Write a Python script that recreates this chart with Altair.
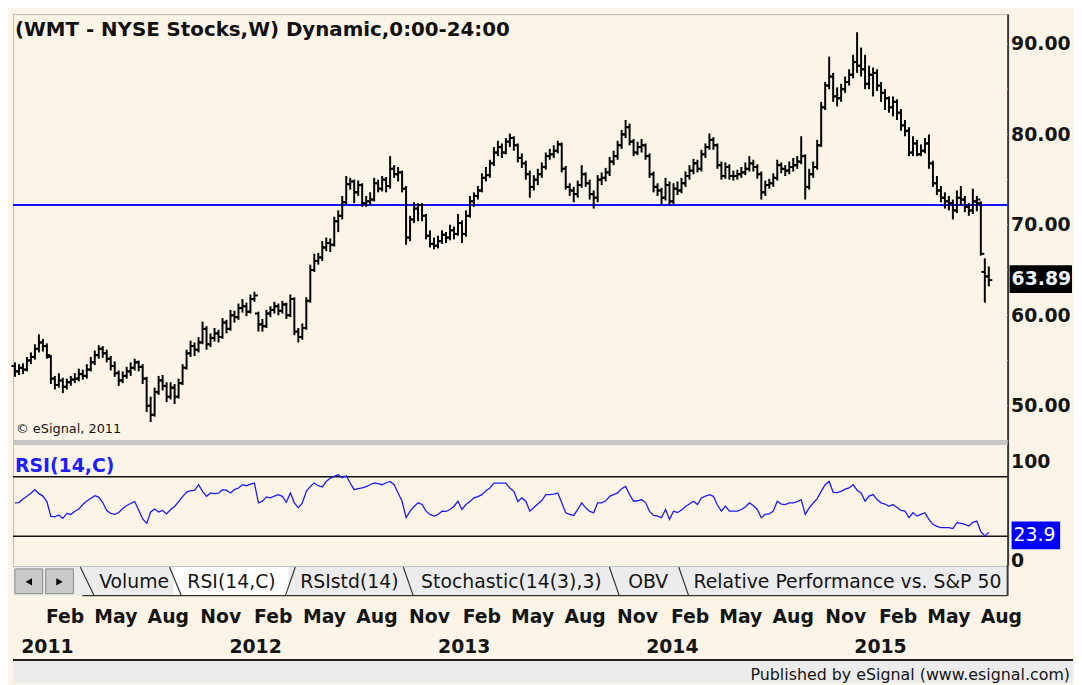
import altair as alt
import pandas as pd

# ---------------- data ----------------
TITLE = "(WMT - NYSE Stocks,W) Dynamic,0:00-24:00"
COPYRIGHT = "\u00a9 eSignal, 2011"
RSI_NAME = "RSI(14,C)"
PUBLISHED = "Published by eSignal (www.esignal.com)"
FIRST_WEEK = "2010-11-05"

opens = [
    54.4, 53.8, 54.2, 54.0, 55.0, 55.4, 56.3, 57.0, 56.6, 55.4,
    53.0, 52.3, 52.8, 52.1, 52.6, 52.9, 53.0, 53.5, 53.3, 54.0,
    54.8, 55.6, 56.3, 55.8, 55.2, 54.4, 53.6, 52.8, 53.3, 53.8,
    54.2, 54.8, 54.3, 53.0, 50.0, 49.0, 51.5, 52.8, 52.2, 51.0,
    52.0, 51.0, 52.5, 54.2, 55.8, 56.6, 56.2, 57.0, 58.5, 56.8,
    57.5, 58.0, 57.6, 59.2, 58.5, 60.0, 59.8, 60.8, 61.0, 60.4,
    61.8, 60.2, 59.0, 58.8, 60.2, 60.6, 61.0, 60.5, 61.2, 60.0,
    61.8, 58.2, 57.6, 58.6, 61.6, 65.0, 66.0, 66.4, 67.5, 68.0,
    67.8, 70.4, 71.0, 72.5, 74.5, 74.8, 73.6, 74.4, 72.4, 72.6,
    72.8, 74.6, 74.0, 75.0, 74.3, 76.2, 75.6, 75.8, 74.0, 68.6,
    70.6, 71.8, 72.2, 71.0, 68.8, 67.9, 67.7, 68.2, 68.9, 68.6,
    69.4, 69.0, 70.2, 69.0, 71.0, 72.6, 73.2, 73.8, 75.2, 75.5,
    76.8, 78.0, 78.6, 78.0, 79.2, 79.6, 78.8, 77.4, 76.8, 75.6,
    74.2, 75.0, 75.6, 76.4, 77.6, 77.8, 78.2, 78.9, 76.2, 74.2,
    73.8, 73.4, 74.4, 75.6, 74.6, 73.4, 73.0, 75.0, 75.2, 75.8,
    77.0, 77.6, 78.8, 80.0, 80.8, 79.2, 78.0, 78.6, 78.8, 77.6,
    75.6, 74.2, 73.8, 73.0, 74.4, 72.6, 74.0, 73.8, 74.6, 75.4,
    76.0, 76.8, 76.2, 77.8, 78.6, 79.4, 78.8, 76.6, 75.4, 76.4,
    75.4, 75.4, 75.6, 75.8, 76.2, 76.8, 76.4, 75.6, 73.6, 74.4,
    74.6, 75.2, 76.6, 76.2, 76.0, 76.4, 76.6, 77.0, 77.6, 74.2,
    75.6, 76.4, 78.8, 83.0, 85.4, 86.4, 84.2, 84.0, 85.0, 85.8,
    86.6, 88.0, 87.6, 87.2, 85.6, 86.6, 86.8, 85.4, 84.6, 84.0,
    83.0, 83.6, 82.4, 81.0, 80.4, 78.0, 79.0, 77.8, 78.2, 79.0,
    76.8, 74.6, 73.8, 73.0, 72.6, 72.4, 71.6, 73.0, 72.8, 72.0,
    71.6, 72.6, 72.4, 64.8, 64.3,
]
highs = [
    54.8, 54.6, 54.7, 55.4, 55.9, 56.8, 57.9, 57.4, 56.9, 55.6,
    53.3, 53.6, 53.1, 53.0, 53.3, 53.6, 54.1, 54.0, 54.6, 55.4,
    56.1, 56.7, 56.6, 56.2, 55.5, 54.9, 53.9, 53.8, 54.3, 54.8,
    55.2, 55.0, 54.6, 53.2, 51.0, 52.0, 53.3, 53.4, 52.6, 52.6,
    52.4, 53.0, 54.6, 56.2, 57.2, 57.0, 57.6, 59.3, 58.8, 58.0,
    58.6, 58.4, 59.7, 59.5, 60.6, 60.5, 61.3, 61.8, 61.4, 62.3,
    62.6, 60.4, 59.6, 60.6, 61.0, 61.5, 61.3, 61.6, 61.4, 62.3,
    62.0, 58.6, 59.1, 62.0, 65.6, 66.8, 66.9, 68.2, 68.6, 68.5,
    70.9, 71.6, 73.2, 75.4, 75.2, 75.0, 74.9, 74.6, 73.2, 73.6,
    75.2, 75.0, 75.4, 75.3, 77.6, 76.6, 76.4, 76.0, 74.3, 71.0,
    72.5, 72.4, 72.4, 71.2, 69.4, 68.6, 68.8, 69.4, 69.2, 70.0,
    69.8, 71.2, 70.5, 71.6, 73.2, 73.6, 74.3, 75.7, 76.4, 77.2,
    78.6, 79.3, 79.0, 79.6, 80.1, 79.8, 79.0, 77.9, 77.1, 76.0,
    75.5, 76.2, 76.9, 78.0, 78.4, 78.8, 79.3, 79.1, 76.5, 74.6,
    74.2, 74.9, 76.6, 75.8, 75.0, 73.8, 75.5, 75.8, 76.3, 77.5,
    78.2, 79.3, 80.5, 81.6, 81.2, 79.5, 79.2, 79.5, 79.0, 77.9,
    75.9, 74.6, 74.1, 75.2, 74.8, 74.6, 74.8, 75.2, 75.9, 76.6,
    77.3, 77.2, 78.3, 79.0, 80.1, 79.7, 79.0, 77.0, 76.9, 76.7,
    76.0, 76.1, 76.4, 76.9, 77.6, 77.2, 76.7, 75.9, 74.9, 75.1,
    75.7, 77.2, 76.9, 76.6, 77.0, 77.4, 77.6, 79.8, 77.8, 76.2,
    77.0, 79.4, 83.6, 85.8, 88.6, 86.8, 85.2, 85.6, 86.4, 87.2,
    88.8, 91.3, 89.6, 88.8, 87.6, 87.4, 87.2, 85.8, 85.0, 84.2,
    84.2, 83.9, 82.8, 81.6, 80.8, 79.8, 79.4, 78.9, 79.6, 80.0,
    77.1, 75.4, 74.3, 73.6, 73.2, 72.8, 73.8, 74.3, 73.2, 72.4,
    74.0, 73.2, 72.6, 66.3, 65.4,
]
lows = [
    53.2, 53.4, 53.5, 53.8, 54.6, 55.1, 55.9, 56.0, 55.2, 52.4,
    51.8, 52.0, 51.4, 51.8, 52.2, 52.5, 52.7, 52.9, 53.0, 53.8,
    54.5, 55.2, 55.3, 54.8, 53.9, 53.2, 52.2, 52.5, 53.0, 53.3,
    53.9, 53.8, 52.4, 49.3, 48.2, 48.8, 51.2, 51.7, 50.4, 50.7,
    50.2, 50.8, 52.3, 54.0, 55.4, 55.5, 55.9, 56.8, 56.2, 56.5,
    57.1, 57.0, 57.4, 58.0, 58.3, 59.2, 59.5, 60.3, 59.9, 60.2,
    61.5, 58.2, 58.2, 58.6, 59.8, 60.2, 60.0, 60.2, 59.6, 59.8,
    57.8, 57.0, 57.3, 58.4, 61.4, 64.8, 65.6, 66.0, 67.1, 67.0,
    67.6, 69.2, 70.6, 72.3, 73.9, 72.4, 73.2, 72.0, 72.0, 72.2,
    72.6, 73.6, 73.7, 73.6, 74.0, 75.2, 74.8, 73.6, 67.8, 68.2,
    70.2, 70.4, 70.4, 68.4, 67.5, 67.3, 67.4, 67.9, 68.0, 68.3,
    68.4, 68.8, 68.0, 68.7, 70.8, 72.0, 72.8, 73.6, 74.8, 75.2,
    76.5, 77.6, 77.4, 77.8, 78.6, 78.2, 76.9, 76.3, 75.0, 73.0,
    73.8, 74.4, 75.2, 76.1, 77.2, 77.4, 77.9, 75.8, 73.9, 73.2,
    72.5, 73.0, 74.1, 74.2, 72.8, 71.8, 72.5, 74.4, 74.8, 75.4,
    76.6, 77.2, 78.4, 79.6, 78.8, 77.6, 77.7, 78.0, 77.2, 75.2,
    73.6, 73.2, 72.3, 72.7, 72.2, 72.3, 73.3, 73.5, 74.2, 75.0,
    75.6, 75.8, 75.9, 77.4, 78.3, 78.3, 76.2, 75.0, 75.1, 75.0,
    74.9, 75.0, 75.2, 75.5, 75.9, 75.9, 75.1, 72.8, 73.2, 74.0,
    74.2, 74.9, 75.7, 75.4, 75.6, 75.9, 76.2, 76.7, 72.8, 73.9,
    75.2, 76.1, 78.6, 82.7, 85.0, 83.6, 83.1, 83.6, 84.6, 85.4,
    86.2, 86.8, 86.4, 85.0, 85.0, 84.2, 84.8, 83.6, 82.7, 82.4,
    82.0, 81.6, 80.4, 79.8, 77.6, 77.6, 77.6, 77.6, 77.9, 76.2,
    74.2, 73.3, 72.5, 71.8, 71.6, 70.6, 71.3, 72.2, 71.4, 71.0,
    71.2, 71.5, 66.6, 61.4, 63.2,
]
closes = [
    53.8, 54.2, 54.0, 55.0, 55.4, 56.3, 57.0, 56.6, 55.6, 53.0,
    52.3, 52.8, 52.1, 52.6, 52.9, 53.0, 53.5, 53.3, 54.0, 54.8,
    55.6, 56.3, 55.8, 55.2, 54.4, 53.6, 52.8, 53.3, 53.8, 54.2,
    54.8, 54.3, 53.0, 50.0, 49.0, 51.5, 52.8, 52.2, 51.0, 52.0,
    51.0, 52.5, 54.2, 55.8, 56.6, 56.2, 57.0, 58.5, 56.8, 57.5,
    58.0, 57.6, 59.2, 58.5, 60.0, 59.8, 60.8, 61.0, 60.4, 61.8,
    62.2, 59.0, 58.8, 60.2, 60.6, 61.0, 60.5, 61.2, 60.0, 61.8,
    58.2, 57.6, 58.6, 61.6, 65.0, 66.0, 66.4, 67.5, 68.0, 67.8,
    70.4, 71.0, 72.5, 74.5, 74.8, 73.6, 74.4, 72.4, 72.6, 72.8,
    74.6, 74.0, 75.0, 74.3, 76.2, 75.6, 75.8, 74.0, 68.6, 70.6,
    71.8, 72.2, 71.0, 68.8, 67.9, 67.7, 68.2, 68.9, 68.6, 69.4,
    69.0, 70.2, 69.0, 71.0, 72.6, 73.2, 73.8, 75.2, 75.5, 76.8,
    78.0, 78.6, 78.0, 79.2, 79.6, 78.8, 77.4, 76.8, 75.6, 74.2,
    75.0, 75.6, 76.4, 77.6, 77.8, 78.2, 78.9, 76.2, 74.2, 73.8,
    73.4, 74.4, 75.6, 74.6, 73.4, 73.0, 75.0, 75.2, 75.8, 77.0,
    77.6, 78.8, 80.0, 80.8, 79.2, 78.0, 78.6, 78.8, 77.6, 75.6,
    74.2, 73.8, 73.0, 74.4, 72.6, 74.0, 73.8, 74.6, 75.4, 76.0,
    76.8, 76.2, 77.8, 78.6, 79.4, 78.8, 76.6, 75.4, 76.4, 75.4,
    75.4, 75.6, 75.8, 76.2, 76.8, 76.4, 75.6, 73.6, 74.4, 74.6,
    75.2, 76.6, 76.2, 76.0, 76.4, 76.6, 77.0, 77.6, 74.2, 75.6,
    76.4, 78.8, 83.0, 85.4, 86.4, 84.2, 84.0, 85.0, 85.8, 86.6,
    88.0, 87.6, 87.2, 85.6, 86.6, 86.8, 85.4, 84.6, 84.0, 83.0,
    83.6, 82.4, 81.0, 80.4, 78.0, 79.0, 77.8, 78.2, 79.0, 76.8,
    74.6, 73.8, 73.0, 72.6, 72.4, 71.6, 73.0, 72.8, 72.0, 71.6,
    72.6, 72.8, 66.8, 64.3, 63.89,
]
rsi_values = [
    53.7, 54.0, 57.5, 60.3, 63.5, 67.0, 63.0, 60.5, 55.0, 40.0,
    39.5, 41.5, 38.0, 43.0, 42.0, 45.3, 47.5, 52.0, 55.5, 58.0,
    61.0, 59.5, 54.0, 46.0, 43.0, 42.0, 44.0, 48.0, 51.0, 53.0,
    55.0, 46.5, 37.5, 33.0, 44.5, 47.5, 44.5, 46.0, 42.5, 47.0,
    50.0, 55.0, 60.0, 64.5, 66.0, 66.3, 72.0, 65.3, 60.3, 63.7,
    63.0, 63.5, 67.0, 66.5, 63.7, 67.0, 68.7, 72.0, 71.0, 72.5,
    73.7, 53.7, 55.3, 59.7, 58.7, 60.5, 62.0, 60.3, 54.3, 63.7,
    53.7, 48.7, 53.7, 65.3, 70.3, 73.7, 71.0, 69.7, 75.3, 78.7,
    80.5, 82.0, 79.0, 81.0, 73.7, 67.0, 68.0, 68.7, 70.0, 72.0,
    73.7, 73.0, 72.0, 74.0, 75.3, 72.0, 63.7, 55.3, 38.7, 45.3,
    50.0, 53.7, 52.0, 45.3, 42.0, 40.3, 42.0, 45.3, 45.0, 47.0,
    50.3, 55.3, 47.0, 52.0, 55.0, 58.7, 60.0, 62.0, 66.0, 68.7,
    73.7, 73.7, 73.7, 73.7, 68.7, 65.3, 55.0, 58.7, 55.3, 45.3,
    49.0, 52.5, 56.0, 62.0, 62.0, 62.5, 63.7, 53.7, 43.7, 42.0,
    41.0, 47.0, 53.7, 48.7, 45.0, 43.7, 53.7, 53.7, 55.5, 60.3,
    62.0, 63.7, 68.0, 70.3, 62.0, 55.3, 55.8, 57.0, 54.0, 45.0,
    41.0, 40.3, 38.7, 47.0, 37.0, 45.3, 44.0, 46.5, 50.0, 52.5,
    55.3, 52.0, 58.7, 60.5, 62.0, 60.3, 51.5, 45.3, 50.5, 45.3,
    45.3, 45.3, 47.0, 49.5, 53.7, 51.0, 47.0, 38.7, 42.0, 42.5,
    45.5, 55.3, 52.5, 52.0, 53.7, 53.7, 55.0, 57.0, 42.0, 48.7,
    53.5, 58.0, 65.3, 72.0, 75.3, 64.3, 64.0, 65.3, 67.5, 68.7,
    72.0, 66.5, 63.7, 55.3, 60.5, 62.0, 57.0, 53.7, 52.5, 50.3,
    52.0, 49.0, 46.0, 45.3, 38.7, 43.7, 40.3, 42.0, 43.7, 37.0,
    32.0, 30.0, 28.7, 28.7, 28.7, 27.7, 33.7, 33.0, 32.0, 30.3,
    34.0, 35.3, 24.5, 20.3, 23.9,
]

support_level = 72.2
rsi_levels = [80, 20]
price_ticks = [50, 60, 70, 80, 90]
price_grid = [50, 55, 60, 65, 70, 75, 80, 85, 90]
rsi_ticks = [0, 100]

month_labels = ["Feb", "May", "Aug", "Nov"] * 4 + ["Feb", "May", "Aug"]
month_dates = [
    "2011-02-01", "2011-05-01", "2011-08-01", "2011-11-01",
    "2012-02-01", "2012-05-01", "2012-08-01", "2012-11-01",
    "2013-02-01", "2013-05-01", "2013-08-01", "2013-11-01",
    "2014-02-01", "2014-05-01", "2014-08-01", "2014-11-01",
    "2015-02-01", "2015-05-01", "2015-08-01",
]
year_labels = ["2011", "2012", "2013", "2014", "2015"]
year_dates = ["2011-01-01", "2012-01-01", "2013-01-01", "2014-01-01", "2015-01-01"]
tab_labels = ["Volume", "RSI(14,C)", "RSIstd(14)", "Stochastic(14(3),3)", "OBV",
              "Relative Performance vs. S&P 50"]

# ---------------- layout & style ----------------
W = 1004
H_PRICE, H_RSI, H_FOOT = 430, 126, 119
BG = "#fcf5e7"
FONT = "DejaVu Sans"
tab_text_x = [87, 176, 290, 412, 621, 687]

dates = pd.date_range(FIRST_WEEK, periods=len(closes), freq="7D")
bars = pd.DataFrame({
    "date": dates.strftime("%Y-%m-%d"),
    "open": opens, "high": highs, "low": lows, "close": closes, "rsi": rsi_values,
})
last = bars.tail(1)


def ms(ts):
    return int(pd.Timestamp(ts).timestamp() * 1000)


x_domain = [ms(dates[0] - pd.Timedelta(days=3.5)), ms(dates[-1] + pd.Timedelta(days=33))]
xscale = alt.Scale(domain=x_domain)
X = alt.X("date:T", scale=xscale, axis=None)

axis_common = dict(title=None, grid=False, ticks=False, domain=True,
                   domainColor="#3a3a3a", domainWidth=2, labelFont=FONT,
                   labelFontWeight="bold", labelFontSize=19, labelColor="#151515",
                   labelPadding=3)

price_scale = alt.Scale(domain=[46.2, 93.3], zero=False, nice=False)
price_axis = alt.Axis(orient="right", values=price_ticks, format=".2f", **axis_common)


def PY(f):
    return alt.Y(f, scale=price_scale, axis=price_axis)


one = pd.DataFrame({"k": [0]})

grid_layer = alt.Chart(pd.DataFrame({"level": price_grid})).mark_rule(
    color="white", strokeWidth=1, strokeDash=[1, 3]).encode(y=PY("level:Q"))
support = alt.Chart(pd.DataFrame({"level": [support_level]})).mark_rule(
    color="#1212ff", strokeWidth=2).encode(y=PY("level:Q"))
hl = alt.Chart(bars).mark_rule(color="black", strokeWidth=2).encode(
    x=X, y=PY("low:Q"), y2="high:Q")
op = alt.Chart(bars).mark_rule(color="black", strokeWidth=2, xOffset=-3.5).encode(
    x=X, x2="date:T", y=PY("open:Q"), y2="open:Q")
cl = alt.Chart(bars).mark_rule(color="black", strokeWidth=2, x2Offset=3.5).encode(
    x=X, x2="date:T", y=PY("close:Q"), y2="close:Q")
pbox = alt.Chart(last).mark_rect(color="black", yOffset=-15, y2Offset=13).encode(
    x=alt.value(1006), x2=alt.value(1069), y=PY("close:Q"), y2="close:Q")
plab = alt.Chart(last).mark_text(color="#eef4ff", font=FONT, fontSize=19, fontWeight="bold",
                                 align="left", baseline="middle", yOffset=-1).encode(
    x=alt.value(1008), y=PY("close:Q"), text=alt.Text("close:Q", format=".2f"))
title_t = alt.Chart(pd.DataFrame({"t": [TITLE]})).mark_text(
    align="left", baseline="alphabetic", font=FONT, fontSize=20, fontWeight="bold",
    color="#111111").encode(x=alt.value(2), y=alt.value(22), text="t:N")
copy_t = alt.Chart(pd.DataFrame({"t": [COPYRIGHT]})).mark_text(
    align="left", baseline="alphabetic", font=FONT, fontSize=13, color="#111111").encode(
    x=alt.value(3), y=alt.value(423), text="t:N")

price = alt.layer(grid_layer, support, hl, op, cl, pbox, plab, title_t, copy_t).properties(
    width=W, height=H_PRICE, view=alt.ViewBackground(stroke="#b8b8b8", fill=BG))

# ---------------- RSI panel ----------------
rsi_scale = alt.Scale(domain=[-9, 117], zero=False, nice=False)
rsi_axis = alt.Axis(orient="right", values=rsi_ticks, labelOffset=5, **axis_common)


def RY(f):
    return alt.Y(f, scale=rsi_scale, axis=rsi_axis)


divider = alt.Chart(one).mark_rect(color="#c6c6c6").encode(
    x=alt.value(0), x2=alt.value(W), y=alt.value(0), y2=alt.value(5))
bands = alt.Chart(pd.DataFrame({"level": rsi_levels})).mark_rule(
    color="#111111", strokeWidth=1.5).encode(y=RY("level:Q"))
rline = alt.Chart(bars).mark_line(color="#1a1aff", strokeWidth=1.3).encode(
    x=X, y=RY("rsi:Q"))
rbox = alt.Chart(last).mark_rect(color="#0000ff", yOffset=-11, y2Offset=17).encode(
    x=alt.value(1008), x2=alt.value(1057), y=RY("rsi:Q"), y2="rsi:Q")
rlab = alt.Chart(last).mark_text(color="white", font=FONT, fontSize=19, align="left",
                                 baseline="middle", yOffset=3).encode(
    x=alt.value(1010), y=RY("rsi:Q"), text=alt.Text("rsi:Q", format=".1f"))
rname = alt.Chart(pd.DataFrame({"t": [RSI_NAME]})).mark_text(
    align="left", baseline="middle", font=FONT, fontSize=19, fontWeight="bold",
    color="#1e1eff").encode(x=alt.value(2), y=alt.value(26), text="t:N")

rsi_panel = alt.layer(divider, bands, rline, rbox, rlab, rname).properties(
    width=W, height=H_RSI, view=alt.ViewBackground(stroke="#b8b8b8", fill=BG))

# ---------------- footer: tabs, date labels, publisher strip ----------------
rects = pd.DataFrame({
    "x1": [0, 162, 2, 33, 0], "x2": [W, 278, 30, 61, 1070],
    "y1": [1, 2, 4, 4, 96], "y2": [31, 31, 29, 29, 119],
    "fill": ["#ececec", "#ffffff", "#c9c9c9", "#c9c9c9", "#ececec"],
    "stroke": ["transparent", "transparent", "#8a8a8a", "#8a8a8a", "transparent"],
})
lines = pd.DataFrame({
    "x1": [0, 70, 68, 158, 285, 394, 602, 672, W, 0],
    "x2": [W, W, 82, 170, 275, 404, 612, 682, W, 1070],
    "y1": [1.5, 31, 2, 2, 2, 2, 2, 2, 0, 96],
    "y2": [1.5, 31, 31, 31, 31, 31, 31, 31, 31, 96],
    "c": ["#bdbdbd", "#333333", "#333333", "#333333", "#333333", "#333333",
          "#333333", "#333333", "#3a3a3a", "#222222"],
    "w": [1, 1.2, 1.2, 1.2, 1.2, 1.2, 1.2, 1.2, 2, 2],
})
arrows = pd.DataFrame({"x": [16, 47], "y": [17, 17], "s": ["triangle-left", "triangle-right"]})

rect_layer = alt.Chart(rects).mark_rect(strokeWidth=1).encode(
    x=alt.X("x1:Q", scale=None), x2="x2:Q", y=alt.Y("y1:Q", scale=None), y2="y2:Q",
    fill=alt.Fill("fill:N", scale=None), stroke=alt.Stroke("stroke:N", scale=None))
line_layer = alt.Chart(lines).mark_rule().encode(
    x=alt.X("x1:Q", scale=None), x2="x2:Q", y=alt.Y("y1:Q", scale=None), y2="y2:Q",
    color=alt.Color("c:N", scale=None), strokeWidth=alt.StrokeWidth("w:Q", scale=None))
arrow_layer = alt.Chart(arrows).mark_point(filled=True, color="black", size=55, opacity=1).encode(
    x=alt.X("x:Q", scale=None), y=alt.Y("y:Q", scale=None), shape=alt.Shape("s:N", scale=None))
tab_layer = alt.Chart(pd.DataFrame({"x": tab_text_x, "label": tab_labels})).mark_text(
    align="left", baseline="middle", font=FONT, fontSize=19, color="#151515").encode(
    x=alt.X("x:Q", scale=None), y=alt.value(17), text="label:N")
month_layer = alt.Chart(pd.DataFrame({"d": month_dates, "label": month_labels})).mark_text(
    align="center", baseline="middle", font=FONT, fontSize=19, fontWeight="bold",
    color="#151515").encode(
    x=alt.X("d:T", scale=xscale, axis=None), y=alt.value(53), text="label:N")
year_layer = alt.Chart(pd.DataFrame({"d": year_dates, "label": year_labels})).mark_text(
    align="center", baseline="middle", font=FONT, fontSize=19, fontWeight="bold",
    color="#151515").encode(
    x=alt.X("d:T", scale=xscale, axis=None), y=alt.value(83), text="label:N")
pub_layer = alt.Chart(pd.DataFrame({"t": [PUBLISHED]})).mark_text(
    align="right", baseline="middle", font=FONT, fontSize=16, color="#151515").encode(
    x=alt.value(1067), y=alt.value(111), text="t:N")

footer = alt.layer(rect_layer, line_layer, arrow_layer, tab_layer, month_layer,
                   year_layer, pub_layer).resolve_scale(x="independent").properties(
    width=W, height=H_FOOT, view=alt.ViewBackground(stroke=None, fill=BG))

chart = alt.vconcat(price, rsi_panel, footer, spacing=0, bounds="flush").properties(
    background=BG, padding={"left": 2, "top": 2, "right": 0, "bottom": 0})

chart.save("out.html", embed_options={"renderer": "svg", "actions": False})
